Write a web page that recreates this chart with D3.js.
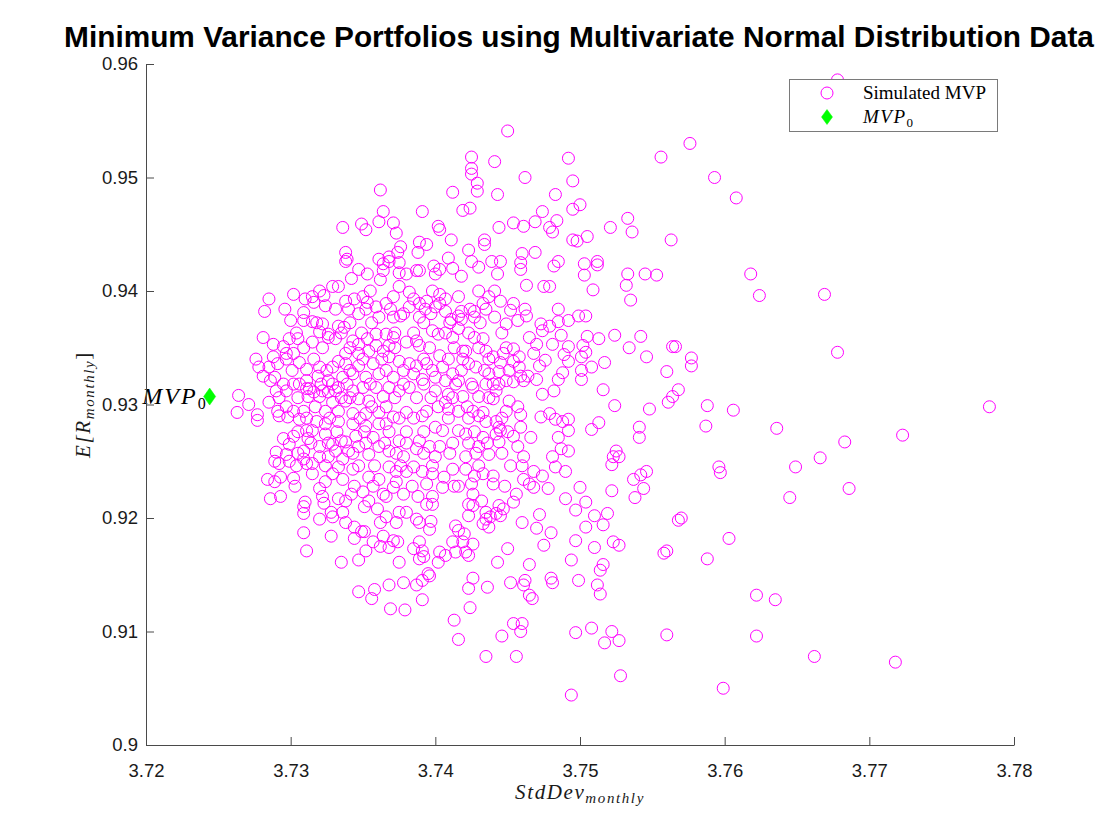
<!DOCTYPE html>
<html><head><meta charset="utf-8">
<script src="https://cdn.jsdelivr.net/npm/d3@7"></script>
<style>body{margin:0;background:#fff}</style>
</head><body>
<svg id="chart" width="1120" height="840"></svg>
<script>
const xTicks = [3.72, 3.73, 3.74, 3.75, 3.76, 3.77, 3.78];
const yTicks = [0.90, 0.91, 0.92, 0.93, 0.94, 0.95, 0.96];
const xTickLabels = ["3.72", "3.73", "3.74", "3.75", "3.76", "3.77", "3.78"];
const yTickLabels = ["0.9", "0.91", "0.92", "0.93", "0.94", "0.95", "0.96"];
const mvp0 = [3.7244, 0.9307];
// [StdDev_monthly, E[R_monthly]] of simulated minimum variance portfolios
const simulatedMVP = [
[3.7783,0.9298],[3.7678,0.9586],[3.7576,0.9530],[3.7556,0.9518],[3.7593,0.9500],[3.7608,0.9482],[3.7533,0.9464],[3.7536,0.9452],
[3.7563,0.9445],[3.7533,0.9415],[3.7545,0.9415],[3.7553,0.9414],[3.7618,0.9415],[3.7532,0.9405],[3.7535,0.9392],[3.7624,0.9396],
[3.7669,0.9397],[3.7542,0.9360],[3.7534,0.9350],[3.7546,0.9342],[3.7564,0.9351],[3.7566,0.9351],[3.7577,0.9341],[3.7577,0.9334],
[3.7560,0.9329],[3.7678,0.9346],[3.7568,0.9313],[3.7564,0.9307],[3.7561,0.9302],[3.7548,0.9296],[3.7588,0.9299],[3.7606,0.9295],
[3.7541,0.9280],[3.7541,0.9271],[3.7587,0.9281],[3.7636,0.9279],[3.7723,0.9273],[3.7683,0.9267],[3.7666,0.9253],[3.7649,0.9245],
[3.7596,0.9245],[3.7597,0.9240],[3.7546,0.9241],[3.7542,0.9238],[3.7537,0.9234],[3.7686,0.9226],[3.7544,0.9226],[3.7538,0.9218],
[3.7645,0.9218],[3.7568,0.9198],[3.7570,0.9200],[3.7603,0.9182],[3.7558,0.9169],[3.7560,0.9171],[3.7588,0.9164],[3.7622,0.9132],
[3.7635,0.9128],[3.7560,0.9097],[3.7622,0.9096],[3.7662,0.9078],[3.7718,0.9073],[3.7599,0.9050],[3.7528,0.9061],[3.7494,0.9044],
[3.7522,0.9247],[3.7500,0.9227],[3.7522,0.9224],[3.7490,0.9217],[3.7504,0.9214],[3.7497,0.9207],[3.7510,0.9202],[3.7519,0.9204],
[3.7516,0.9194],[3.7504,0.9192],[3.7497,0.9180],[3.7510,0.9174],[3.7523,0.9179],[3.7527,0.9176],[3.7494,0.9163],[3.7516,0.9159],
[3.7514,0.9154],[3.7499,0.9145],[3.7512,0.9141],[3.7514,0.9133],[3.7497,0.9099],[3.7508,0.9103],[3.7522,0.9100],[3.7527,0.9092],
[3.7517,0.9090],[3.7472,0.9203],[3.7470,0.9191],[3.7460,0.9196],[3.7480,0.9187],[3.7475,0.9176],[3.7450,0.9173],[3.7465,0.9159],
[3.7443,0.9161],[3.7480,0.9147],[3.7481,0.9143],[3.7462,0.9145],[3.7461,0.9141],[3.7452,0.9143],[3.7465,0.9132],[3.7467,0.9129],
[3.7426,0.9147],[3.7423,0.9138],[3.7436,0.9139],[3.7424,0.9121],[3.7391,0.9128],[3.7413,0.9110],[3.7416,0.9093],[3.7446,0.9096],
[3.7454,0.9107],[3.7460,0.9107],[3.7459,0.9100],[3.7369,0.9120],[3.7379,0.9119],[3.7368,0.9141],[3.7378,0.9143],[3.7387,0.9141],
[3.7391,0.9145],[3.7395,0.9151],[3.7375,0.9161],[3.7435,0.9078],[3.7456,0.9078],
[3.7292,0.9248],[3.7284,0.9234],[3.7289,0.9232],[3.7293,0.9236],[3.7302,0.9235],[3.7286,0.9217],[3.7293,0.9219],[3.7310,0.9214],
[3.7309,0.9210],[3.7309,0.9204],[3.7309,0.9187],[3.7311,0.9171],[3.7320,0.9199],[3.7328,0.9184],[3.7335,0.9161],[3.7347,0.9163],
[3.7347,0.9135],[3.7358,0.9137],[3.7356,0.9129],[3.7315,0.9239],[3.7324,0.9232],[3.7320,0.9226],[3.7322,0.9219],[3.7323,0.9213],
[3.7328,0.9205],[3.7329,0.9201],[3.7336,0.9205],[3.7338,0.9196],[3.7333,0.9217],[3.7338,0.9215],[3.7342,0.9221],[3.7350,0.9223],
[3.7354,0.9215],[3.7351,0.9210],[3.7360,0.9208],[3.7344,0.9192],[3.7344,0.9182],[3.7349,0.9188],[3.7351,0.9188],[3.7357,0.9179],
[3.7352,0.9171],[3.7362,0.9175],[3.7362,0.9196],[3.7364,0.9184],[3.7329,0.9239],[3.7336,0.9234],[3.7333,0.9245],[3.7343,0.9243],
[3.7347,0.9246],[3.7354,0.9236],[3.7361,0.9234],[3.7364,0.9221],[3.7315,0.9248],[3.7311,0.9248],
[3.7368,0.9245],[3.7373,0.9241],[3.7380,0.9241],[3.7385,0.9245],[3.7391,0.9241],[3.7398,0.9239],[3.7406,0.9236],[3.7412,0.9243],
[3.7421,0.9243],[3.7427,0.9237],[3.7433,0.9239],[3.7440,0.9237],[3.7440,0.9230],[3.7452,0.9246],[3.7468,0.9241],[3.7474,0.9237],
[3.7483,0.9245],[3.7490,0.9241],[3.7465,0.9230],[3.7468,0.9227],[3.7478,0.9226],[3.7461,0.9234],[3.7373,0.9232],[3.7378,0.9221],
[3.7388,0.9219],[3.7394,0.9230],[3.7398,0.9219],[3.7394,0.9212],[3.7398,0.9212],[3.7405,0.9227],[3.7416,0.9228],[3.7425,0.9230],
[3.7426,0.9221],[3.7423,0.9212],[3.7426,0.9211],[3.7432,0.9215],[3.7423,0.9202],[3.7444,0.9211],[3.7447,0.9208],[3.7454,0.9214],
[3.7456,0.9221],[3.7435,0.9205],[3.7435,0.9199],[3.7433,0.9195],[3.7437,0.9192],[3.7438,0.9201],[3.7445,0.9202],[3.7442,0.9204],
[3.7375,0.9205],[3.7380,0.9205],[3.7373,0.9196],[3.7387,0.9199],[3.7389,0.9196],[3.7397,0.9197],[3.7396,0.9190],[3.7414,0.9193],
[3.7416,0.9189],[3.7420,0.9186],[3.7412,0.9179],[3.7419,0.9179],[3.7426,0.9177],[3.7421,0.9170],[3.7423,0.9167],[3.7414,0.9170],
[3.7407,0.9167],[3.7403,0.9170],[3.7402,0.9161],[3.7371,0.9180],[3.7374,0.9179],[3.7368,0.9174],[3.7385,0.9173],[3.7389,0.9179],
[3.7391,0.9171],[3.7392,0.9166],[3.7389,0.9164],[3.7396,0.9149],[3.7366,0.9201],[3.7366,0.9219],[3.7371,0.9227],
[3.7509,0.9401],[3.7463,0.9405],[3.7475,0.9404],[3.7479,0.9404],[3.7430,0.9400],[3.7485,0.9384],[3.7499,0.9378],[3.7504,0.9378],
[3.7492,0.9374],[3.7485,0.9373],[3.7479,0.9369],[3.7473,0.9371],[3.7474,0.9365],[3.7481,0.9353],[3.7487,0.9361],[3.7492,0.9351],
[3.7489,0.9344],[3.7492,0.9338],[3.7505,0.9360],[3.7513,0.9358],[3.7524,0.9361],[3.7502,0.9352],[3.7504,0.9346],[3.7501,0.9342],
[3.7508,0.9333],[3.7501,0.9330],[3.7501,0.9322],[3.7517,0.9337],[3.7516,0.9313],[3.7524,0.9299],[3.7513,0.9284],[3.7508,0.9278],
[3.7488,0.9328],[3.7485,0.9322],[3.7482,0.9312],[3.7474,0.9309],[3.7476,0.9339],[3.7472,0.9334],[3.7470,0.9322],[3.7464,0.9325],
[3.7459,0.9325],[3.7454,0.9320],[3.7461,0.9321],[3.7479,0.9292],[3.7473,0.9289],[3.7483,0.9287],[3.7488,0.9285],[3.7492,0.9287],
[3.7492,0.9277],[3.7485,0.9271],[3.7487,0.9261],[3.7492,0.9259],[3.7481,0.9254],[3.7525,0.9259],[3.7527,0.9254],[3.7523,0.9254],
[3.7459,0.9291],[3.7459,0.9280],[3.7466,0.9271],[3.7454,0.9272],[3.7445,0.9277],[3.7457,0.9263],[3.7461,0.9254],[3.7444,0.9267],
[3.7442,0.9285],[3.7465,0.9359],[3.7470,0.9353],[3.7463,0.9378],[3.7457,0.9374],[3.7449,0.9371],[3.7454,0.9389],[3.7452,0.9383],
[3.7445,0.9391],[3.7441,0.9377],[3.7435,0.9384],[3.7427,0.9382],[3.7437,0.9395],[3.7433,0.9389],[3.7427,0.9377],[3.7418,0.9375],
[3.7418,0.9382],[3.7411,0.9375],[3.7403,0.9397],[3.7407,0.9393],[3.7416,0.9395],[3.7400,0.9386],[3.7394,0.9391],[3.7385,0.9393],
[3.7382,0.9399],[3.7389,0.9377],[3.7397,0.9380],[3.7398,0.9365],[3.7402,0.9362],[3.7412,0.9359],[3.7378,0.9380],[3.7371,0.9377],
[3.7369,0.9384],[3.7375,0.9404],[3.7421,0.9347],[3.7427,0.9359],[3.7433,0.9358],[3.7435,0.9347],[3.7440,0.9342],[3.7445,0.9337],
[3.7444,0.9329],[3.7437,0.9327],[3.7454,0.9338],[3.7447,0.9345],[3.7371,0.9395],[3.7366,0.9389],[3.7376,0.9378],[3.7382,0.9386],
[3.7389,0.9389],[3.7403,0.9389],[3.7407,0.9382],[3.7416,0.9378],[3.7416,0.9367],[3.7366,0.9362],[3.7371,0.9359],[3.7368,0.9352],
[3.7380,0.9355],[3.7387,0.9356],[3.7389,0.9352],[3.7368,0.9342],[3.7375,0.9338],[3.7382,0.9336],[3.7387,0.9334],[3.7394,0.9336],
[3.7403,0.9343],[3.7409,0.9340],[3.7405,0.9333],[3.7412,0.9327],[3.7416,0.9321],[3.7414,0.9318],[3.7407,0.9321],[3.7400,0.9324],
[3.7391,0.9322],[3.7385,0.9327],[3.7371,0.9324],[3.7368,0.9315],[3.7375,0.9312],[3.7382,0.9315],[3.7400,0.9312],[3.7409,0.9309],
[3.7407,0.9302],[3.7419,0.9307],[3.7426,0.9315],[3.7430,0.9307],[3.7433,0.9293],[3.7430,0.9290],[3.7435,0.9285],[3.7426,0.9294],
[3.7416,0.9294],[3.7409,0.9296],[3.7394,0.9294],[3.7391,0.9290],[3.7380,0.9293],[3.7371,0.9289],[3.7366,0.9283],[3.7400,0.9280],
[3.7405,0.9277],[3.7416,0.9277],[3.7421,0.9274],[3.7433,0.9271],[3.7442,0.9274],[3.7444,0.9280],[3.7430,0.9263],[3.7437,0.9256],
[3.7389,0.9268],[3.7387,0.9261],[3.7396,0.9263],[3.7400,0.9254],[3.7403,0.9263],[3.7375,0.9268],[3.7368,0.9259],[3.7378,0.9254],
[3.7421,0.9254],[3.7449,0.9294],[3.7451,0.9303],[3.7435,0.9318],[3.7442,0.9312],[3.7440,0.9305],[3.7449,0.9321],[3.7419,0.9347],
[3.7423,0.9336],[3.7428,0.9333],[3.7454,0.9349],[3.7458,0.9342],[3.7468,0.9345],[3.7458,0.9333],[3.7444,0.9318],
[3.7450,0.9541],[3.7425,0.9518],[3.7425,0.9508],[3.7425,0.9503],[3.7429,0.9495],[3.7429,0.9488],[3.7441,0.9514],[3.7492,0.9517],
[3.7462,0.9500],[3.7495,0.9497],[3.7412,0.9487],[3.7443,0.9485],[3.7483,0.9485],[3.7391,0.9470],[3.7419,0.9471],[3.7424,0.9473],
[3.7495,0.9472],[3.7500,0.9476],[3.7474,0.9470],[3.7371,0.9460],[3.7373,0.9451],[3.7402,0.9457],[3.7403,0.9454],[3.7444,0.9456],
[3.7454,0.9460],[3.7461,0.9457],[3.7469,0.9461],[3.7479,0.9456],[3.7481,0.9452],[3.7484,0.9462],[3.7521,0.9456],[3.7495,0.9445],
[3.7498,0.9444],[3.7505,0.9448],[3.7411,0.9445],[3.7434,0.9445],[3.7434,0.9441],[3.7389,0.9443],[3.7394,0.9441],[3.7388,0.9434],
[3.7376,0.9439],[3.7374,0.9434],[3.7423,0.9436],[3.7425,0.9426],[3.7430,0.9421],[3.7409,0.9429],[3.7412,0.9420],[3.7460,0.9433],
[3.7469,0.9434],[3.7459,0.9425],[3.7459,0.9419],[3.7445,0.9426],[3.7439,0.9426],[3.7443,0.9415],[3.7485,0.9426],[3.7482,0.9422],
[3.7503,0.9424],[3.7512,0.9426],[3.7512,0.9423],[3.7503,0.9414],[3.7399,0.9422],[3.7403,0.9419],[3.7400,0.9415],[3.7389,0.9418],
[3.7387,0.9418],[3.7368,0.9430],[3.7368,0.9426],[3.7375,0.9425],[3.7375,0.9416],[3.7380,0.9415],[3.7418,0.9413],
[3.7362,0.9489],[3.7364,0.9470],[3.7361,0.9461],[3.7336,0.9456],[3.7349,0.9459],[3.7352,0.9454],[3.7338,0.9434],[3.7339,0.9428],
[3.7338,0.9426],[3.7361,0.9428],[3.7347,0.9419],[3.7353,0.9415],[3.7364,0.9418],[3.7364,0.9424],[3.7342,0.9411],[3.7362,0.9410],
[3.7285,0.9393],[3.7282,0.9382],[3.7302,0.9397],[3.7310,0.9393],[3.7315,0.9395],[3.7323,0.9396],[3.7316,0.9390],[3.7324,0.9387],
[3.7329,0.9404],[3.7333,0.9404],[3.7281,0.9359],[3.7288,0.9353],[3.7300,0.9374],[3.7309,0.9381],[3.7309,0.9374],[3.7315,0.9373],
[3.7322,0.9371],[3.7320,0.9364],[3.7315,0.9355],[3.7326,0.9359],[3.7299,0.9358],[3.7305,0.9358],[3.7295,0.9351],[3.7297,0.9345],
[3.7302,0.9345],[3.7276,0.9340],[3.7278,0.9333],[3.7281,0.9325],[3.7285,0.9333],[3.7288,0.9342],[3.7291,0.9336],[3.7289,0.9324],
[3.7286,0.9321],[3.7295,0.9318],[3.7297,0.9312],[3.7290,0.9312],[3.7306,0.9337],[3.7311,0.9331],[3.7320,0.9333],[3.7319,0.9325],
[3.7311,0.9321],[3.7311,0.9314],[3.7316,0.9311],[3.7306,0.9318],[3.7264,0.9308],[3.7271,0.9300],[3.7263,0.9293],[3.7277,0.9291],
[3.7277,0.9286],[3.7285,0.9302],[3.7291,0.9294],[3.7292,0.9290],[3.7298,0.9289],[3.7297,0.9298],[3.7302,0.9294],[3.7309,0.9294],
[3.7306,0.9287],[3.7312,0.9307],[3.7313,0.9314],[3.7320,0.9307],[3.7322,0.9312],[3.7326,0.9311],[3.7331,0.9312],[3.7329,0.9318],
[3.7295,0.9270],[3.7302,0.9272],[3.7299,0.9265],[3.7290,0.9258],[3.7297,0.9256],[3.7311,0.9277],[3.7312,0.9270],[3.7309,0.9259],
[3.7320,0.9263],[3.7329,0.9265],[3.7335,0.9268],[3.7338,0.9267],[3.7331,0.9259],[3.7340,0.9259],[3.7347,0.9263],[3.7320,0.9254],
[3.7299,0.9250],[3.7338,0.9391],[3.7344,0.9393],[3.7350,0.9395],[3.7353,0.9390],[3.7340,0.9384],[3.7347,0.9380],[3.7361,0.9377],
[3.7359,0.9386],[3.7333,0.9369],[3.7337,0.9368],[3.7326,0.9362],[3.7331,0.9358],[3.7343,0.9356],[3.7347,0.9353],[3.7353,0.9358],
[3.7359,0.9362],[3.7359,0.9352],[3.7364,0.9347],[3.7354,0.9347],[3.7347,0.9345],[3.7338,0.9345],[3.7333,0.9338],[3.7329,0.9333],
[3.7338,0.9336],[3.7347,0.9334],[3.7357,0.9336],[3.7361,0.9327],[3.7352,0.9324],[3.7343,0.9327],[3.7336,0.9324],[3.7326,0.9321],
[3.7333,0.9315],[3.7343,0.9312],[3.7350,0.9315],[3.7359,0.9315],[3.7364,0.9307],[3.7354,0.9303],[3.7347,0.9305],[3.7338,0.9303],
[3.7329,0.9302],[3.7324,0.9294],[3.7333,0.9294],[3.7343,0.9292],[3.7352,0.9292],[3.7361,0.9293],[3.7361,0.9283],[3.7352,0.9281],
[3.7343,0.9283],[3.7333,0.9285],[3.7324,0.9283],[3.7318,0.9285],[3.7315,0.9277],[3.7324,0.9274],[3.7345,0.9272],[3.7357,0.9271],
[3.7361,0.9263],[3.7354,0.9256],[3.7336,0.9252],[3.7326,0.9254],[3.7309,0.9252],[3.7289,0.9250],
[3.7318,0.9372],[3.7341,0.9372],[3.7356,0.9372],[3.7392,0.9372],[3.7410,0.9372],[3.7431,0.9372],
[3.7304,0.9363],[3.7335,0.9363],[3.7349,0.9363],[3.7372,0.9363],[3.7385,0.9363],[3.7407,0.9363],[3.7423,0.9363],[3.7446,0.9363],
[3.7309,0.9350],[3.7322,0.9350],[3.7341,0.9350],[3.7372,0.9350],[3.7396,0.9350],[3.7413,0.9350],[3.7430,0.9350],[3.7449,0.9350],
[3.7297,0.9340],[3.7316,0.9340],[3.7350,0.9340],[3.7363,0.9340],[3.7392,0.9340],[3.7419,0.9340],[3.7437,0.9340],
[3.7301,0.9330],[3.7325,0.9330],[3.7341,0.9330],[3.7366,0.9330],[3.7378,0.9330],[3.7398,0.9330],[3.7418,0.9330],[3.7434,0.9330],[3.7451,0.9330],
[3.7302,0.9318],[3.7321,0.9318],[3.7339,0.9318],[3.7355,0.9318],[3.7378,0.9318],[3.7392,0.9318],[3.7425,0.9318],[3.7440,0.9318],
[3.7292,0.9306],[3.7305,0.9306],[3.7335,0.9306],[3.7341,0.9306],[3.7372,0.9306],[3.7387,0.9306],[3.7397,0.9306],[3.7412,0.9306],[3.7437,0.9306],
[3.7317,0.9298],[3.7356,0.9298],[3.7366,0.9298],[3.7402,0.9298],[3.7422,0.9298],[3.7457,0.9298],
[3.7311,0.9288],[3.7327,0.9288],[3.7348,0.9288],[3.7375,0.9288],[3.7385,0.9288],[3.7409,0.9288],[3.7423,0.9288],[3.7446,0.9288],
[3.7305,0.9276],[3.7332,0.9276],[3.7351,0.9276],[3.7368,0.9276],[3.7380,0.9276],[3.7392,0.9276],[3.7427,0.9276],[3.7450,0.9276],
[3.7314,0.9266],[3.7326,0.9266],[3.7352,0.9266],[3.7365,0.9266],[3.7380,0.9266],[3.7412,0.9266],[3.7423,0.9266],[3.7436,0.9266],
[3.7305,0.9257],[3.7343,0.9257],[3.7373,0.9257],[3.7392,0.9257],[3.7410,0.9257],[3.7428,0.9257],[3.7446,0.9257],
[3.7304,0.9246],[3.7324,0.9246],[3.7358,0.9246],[3.7376,0.9246],[3.7398,0.9246],[3.7430,0.9246],[3.7460,0.9246],
[3.7303,0.9228],[3.7344,0.9228],[3.7357,0.9228],[3.7384,0.9228],[3.7413,0.9228],[3.7448,0.9228],
[3.7296,0.9384],[3.7331,0.9384],[3.7352,0.9384],[3.7393,0.9384],[3.7424,0.9384],[3.7462,0.9384],
[3.7320,0.9400],[3.7355,0.9400],[3.7398,0.9400],[3.7441,0.9400]
];

const svg = d3.select("#chart");
const W = 1120, H = 840;
const plot = {left: 146, right: 1014, top: 64, bottom: 745};
const x = d3.scaleLinear().domain([3.72, 3.78]).range([plot.left, plot.right]);
const y = d3.scaleLinear().domain([0.90, 0.96]).range([plot.bottom, plot.top]);

const axisColor = "#4a4a4a";
const tickFont = "'Liberation Sans', Arial, Helvetica, sans-serif";
const serif = "'Liberation Serif', 'Times New Roman', serif";

svg.append("rect").attr("width", W).attr("height", H).attr("fill", "#fff");

// Data points
const gPts = svg.append("g");
gPts.selectAll("circle").data(simulatedMVP).join("circle")
  .attr("cx", d => x(d[0])).attr("cy", d => y(d[1])).attr("r", 6)
  .attr("fill", "none").attr("stroke", "#ff00ff").attr("stroke-width", 1);

// MVP0 marker
const diamond = (w, h) => `M0,${-h}L${w},0L0,${h}L${-w},0Z`;
svg.append("path").attr("d", diamond(6, 8.5))
  .attr("transform", `translate(${x(mvp0[0])},${y(mvp0[1])})`)
  .attr("fill", "#00ff00").attr("stroke", "#00ff00").attr("stroke-width", 0.5);

// MVP0 label
const lab = svg.append("text")
  .attr("x", x(mvp0[0]) - 2).attr("y", y(mvp0[1]) + 7)
  .attr("text-anchor", "end").attr("font-family", serif).attr("font-style", "italic")
  .attr("font-size", 24).attr("letter-spacing", 2).attr("fill", "#000");
lab.append("tspan").text("MVP");
lab.append("tspan").attr("font-size", 16).attr("dy", 5).attr("font-style", "normal").text("0");

// Axes
const yAxis = d3.axisLeft(y).tickValues(yTicks).tickFormat((d, i) => yTickLabels[i])
  .tickSizeInner(-8).tickSizeOuter(0).tickPadding(8);
const gy = svg.append("g").attr("transform", `translate(${plot.left},0)`).call(yAxis);
const xAxis = d3.axisBottom(x).tickValues(xTicks).tickFormat((d, i) => xTickLabels[i])
  .tickSizeInner(-8).tickSizeOuter(0).tickPadding(19);
const gx = svg.append("g").attr("transform", `translate(0,${plot.bottom})`).call(xAxis);
[gx, gy].forEach(g => {
  g.select(".domain").attr("stroke", axisColor);
  g.selectAll(".tick line").attr("stroke", axisColor);
  g.selectAll(".tick text").attr("fill", "#1a1a1a").attr("font-family", tickFont).attr("font-size", 18.5);
});

// Axis labels
const xl = svg.append("text").attr("x", (plot.left + plot.right) / 2).attr("y", 799)
  .attr("text-anchor", "middle").attr("font-family", serif).attr("font-style", "italic")
  .attr("font-size", 21).attr("letter-spacing", 1.6).attr("fill", "#1a1a1a");
xl.append("tspan").text("StdDev");
xl.append("tspan").attr("font-size", 15).attr("dy", 4).text("monthly");

const yl = svg.append("text").attr("transform", `translate(90,${(plot.top + plot.bottom) / 2}) rotate(-90)`)
  .attr("text-anchor", "middle").attr("font-family", serif).attr("font-style", "italic")
  .attr("font-size", 21).attr("letter-spacing", 1.6).attr("fill", "#1a1a1a");
yl.append("tspan").text("E[R");
yl.append("tspan").attr("font-size", 15).attr("dy", 4).text("monthly");
yl.append("tspan").attr("dy", -4).attr("font-style", "normal").text("]");

// Title
const title = svg.append("text").attr("x", 579).attr("y", 47).attr("text-anchor", "middle")
  .attr("font-family", tickFont).attr("font-weight", "bold").attr("font-size", 26).attr("fill", "#000")
  .text("Minimum Variance Portfolios using Multivariate Normal Distribution Data");
const tl = title.node().getComputedTextLength();
title.attr("font-size", 26 * 1030 / tl);

// Legend
const lg = svg.append("g");
lg.append("rect").attr("x", 789.5).attr("y", 79.5).attr("width", 208).attr("height", 52)
  .attr("fill", "#fff").attr("stroke", "#7a7a7a").attr("stroke-width", 1);
lg.append("circle").attr("cx", 827).attr("cy", 93).attr("r", 6)
  .attr("fill", "none").attr("stroke", "#ff00ff").attr("stroke-width", 1);
lg.append("path").attr("d", diamond(5.5, 7.5)).attr("transform", "translate(827,117)")
  .attr("fill", "#00ff00").attr("stroke", "#00ff00").attr("stroke-width", 0.5);
lg.append("text").attr("x", 863).attr("y", 99).attr("font-family", serif).attr("font-size", 19)
  .attr("fill", "#000").text("Simulated MVP");
const l2 = lg.append("text").attr("x", 863).attr("y", 123).attr("font-family", serif)
  .attr("font-style", "italic").attr("font-size", 19).attr("letter-spacing", 1.5).attr("fill", "#000");
l2.append("tspan").text("MVP");
l2.append("tspan").attr("font-size", 13).attr("dy", 4).attr("font-style", "normal").text("0");
</script>
</body></html>
